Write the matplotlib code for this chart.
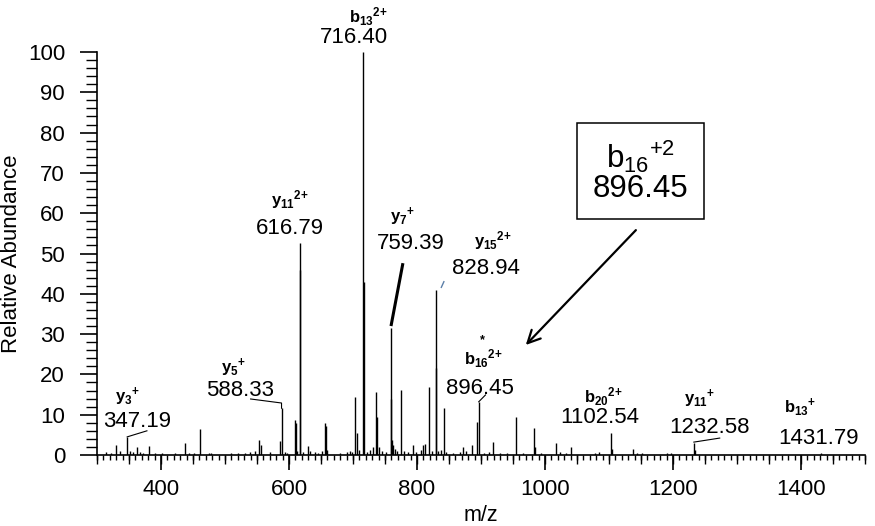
import numpy as np
import matplotlib
matplotlib.use('Agg')
import matplotlib.pyplot as plt
from matplotlib.ticker import MultipleLocator

plt.rcParams['font.family'] = ['Liberation Sans', 'DejaVu Sans']
plt.rcParams['mathtext.fontset'] = 'custom'
plt.rcParams['mathtext.rm'] = 'Liberation Sans'
plt.rcParams['mathtext.bf'] = 'Liberation Sans:bold'
plt.rcParams['mathtext.it'] = 'Liberation Sans:italic'

# ---- data: peak list (m/z, relative abundance) ----
peak_mz = [314, 322, 329.7, 336, 347.19, 351, 356, 362, 367, 372, 380.7, 390, 402,
           422, 437.5, 443, 451, 461.5, 475, 478,
           509, 520, 531, 539, 547, 553, 555.7, 570,
           586, 588.33, 593, 597, 609, 611, 613, 616.79, 617.29, 622, 630, 633, 640, 645,
           651, 656, 657.5, 660,
           680, 690, 695, 698, 703, 705.7, 709, 716.40, 716.9, 722, 727, 730.7, 736, 738,
           741, 745,
           752, 759.39, 759.89, 761, 763, 766, 769, 774.5, 779, 786, 794, 798, 806, 810,
           812, 818, 823, 828.94, 829.44, 833, 837, 842, 846, 856, 867, 872, 876, 885.5,
           893, 896.45,
           905, 912, 919, 930, 940, 954.7, 965, 982.8, 984, 994, 1017, 1024, 1033, 1040,
           1078, 1085, 1102.54, 1104, 1137, 1143, 1152, 1190, 1197, 1232.58, 1234, 1431.79]
peak_int = [0.8, 0.6, 2.5, 1.0, 4.5, 1.0, 0.7, 2.1, 0.8, 0.6, 2.3, 0.6, 0.5,
            0.5, 3.1, 0.6, 0.5, 6.5, 0.5, 0.4,
            0.5, 0.6, 0.6, 0.8, 1.1, 3.7, 2.6, 0.7,
            3.5, 11.6, 0.8, 0.6, 8.7, 8.0, 1.0, 52.5, 46.0, 0.8, 2.3, 1.0, 0.8, 0.6,
            1.0, 7.9, 7.2, 1.2,
            0.5, 0.8, 1.0, 0.7, 14.5, 5.5, 1.2, 100.0, 43.0, 0.8, 1.2, 1.9, 15.7, 9.5,
            1.9, 1.0,
            0.8, 31.4, 13.8, 3.7, 2.5, 1.5, 1.0, 16.1, 1.0, 0.8, 2.4, 0.8, 1.2, 2.4,
            2.8, 16.8, 1.0, 41.0, 21.5, 1.0, 1.3, 11.7, 0.7, 0.6, 0.8, 2.0, 1.0, 2.6,
            8.3, 13.2,
            0.5, 0.7, 3.3, 0.5, 0.4, 9.5, 0.5, 6.8, 2.0, 0.6, 2.9, 0.7, 0.6, 1.9,
            0.6, 0.8, 5.5, 1.5, 1.6, 0.4, 0.5, 0.6, 0.5, 2.9, 1.2, 0.5]

label_values = ['347.19', '588.33', '616.79', '716.40', '759.39', '828.94',
                '896.45', '1102.54', '1232.58', '1431.79']
ion_names = [r'$\mathbf{y}_{\mathbf{3}}{}^{\mathbf{{+}}}$',
             r'$\mathbf{y}_{\mathbf{5}}{}^{\mathbf{{+}}}$',
             r'$\mathbf{y}_{\mathbf{11}}{}^{\mathbf{2{+}}}$',
             r'$\mathbf{b}_{\mathbf{13}}{}^{\mathbf{2{+}}}$',
             r'$\mathbf{y}_{\mathbf{7}}{}^{\mathbf{{+}}}$',
             r'$\mathbf{y}_{\mathbf{15}}{}^{\mathbf{2{+}}}$',
             r'$\mathbf{b}_{\mathbf{16}}{}^{\mathbf{2{+}}}$',
             r'$\mathbf{b}_{\mathbf{20}}{}^{\mathbf{2{+}}}$',
             r'$\mathbf{y}_{\mathbf{11}}{}^{\mathbf{{+}}}$',
             r'$\mathbf{b}_{\mathbf{13}}{}^{\mathbf{{+}}}$']

x_ticks = [400, 600, 800, 1000, 1200, 1400]
y_ticks = [0, 10, 20, 30, 40, 50, 60, 70, 80, 90, 100]

# ---- figure ----
W, H = 875, 526
fig = plt.figure(figsize=(W / 100, H / 100), dpi=100)
ax = fig.add_axes([97 / W, 71 / H, 768 / W, 403 / H])

ax.vlines(peak_mz, 0, peak_int, color='black', lw=1.0)

ax.set_xlim(300, 1500)
ax.set_ylim(0, 100)
for s in ['top', 'right']:
    ax.spines[s].set_visible(False)
ax.spines['left'].set_linewidth(1.2)
ax.spines['bottom'].set_linewidth(1.2)

ax.set_xticks(x_ticks)
ax.xaxis.set_minor_locator(MultipleLocator(10))
ax.set_yticks(y_ticks)
ax.yaxis.set_minor_locator(MultipleLocator(2))
ax.tick_params(axis='x', which='major', length=11, width=1.2, labelsize=16, pad=6)
ax.tick_params(axis='x', which='minor', length=3.6, width=1.0)
ax.tick_params(axis='y', which='major', length=12, width=1.2, labelsize=16, pad=11)
ax.tick_params(axis='y', which='minor', length=8, width=1.0)

sec = ax.secondary_xaxis('bottom')
sec.set_xticks(np.arange(300, 1501, 50))
sec.tick_params(length=6.7, width=1.0, labelbottom=False)
sec.spines['bottom'].set_visible(False)

ax.set_xlabel('m/z', fontsize=15.5, labelpad=4)
ax.set_ylabel('Relative Abundance', fontsize=16, labelpad=4)

# ---- annotations ----
num_pos = [(362.5, 8.2), (523.4, 16.1), (601.6, 56.1), (701.6, 103.5), (790.6, 52.6),
           (907.8, 46.4), (898.4, 16.6), (1086, 9.2), (1257.8, 6.7), (1426.6, 4.2)]
ion_pos = [(346.9, 14.4), (512.5, 21.6), (601.6, 63.3), (723.4, 108.7), (776.6, 59.1),
           (918.8, 53.3), (903, 24.0), (1090.6, 14.4), (1242, 13.9), (1398.4, 11.9)]
for txt, (x, y) in zip(label_values, num_pos):
    ax.text(x, y, txt, fontsize=16, ha='center', va='center', clip_on=False)
for txt, (x, y) in zip(ion_names, ion_pos):
    ax.text(x, y, txt, fontsize=12, ha='center', va='center', clip_on=False)
ax.text(901.6, 28.6, '*', fontsize=9, ha='center', va='center', fontweight='bold')

# leader lines
ax.plot([347.19, 378], [4.5, 6.0], color='black', lw=0.8)
ax.plot([540, 588.33, 588.33], [13.9, 12.9, 11.6], color='black', lw=0.8)
ax.plot([778, 759.39], [47.6, 32.0], color='black', lw=2.2, solid_capstyle='butt')
ax.plot([838, 842], [41.6, 43.0], color='#5b7fa8', lw=1.0)
ax.plot([896.45, 907], [13.2, 14.9], color='black', lw=0.8)
ax.plot([1232.58, 1273], [3.2, 4.2], color='black', lw=0.8)

# boxed callout with arrow
ax.text(1149, 70.5, 'b$_{16}{}^{+2}$\n896.45', fontsize=22.5, ha='center', va='center',
        linespacing=0.95, clip_on=False,
        bbox=dict(boxstyle='square,pad=0.5', fc='white', ec='black', lw=1.1))
ax.annotate('', xy=(970, 27.3), xytext=(1142, 55.8),
            arrowprops=dict(arrowstyle='->,head_length=0.9,head_width=0.45',
                            color='black', lw=1.6, shrinkA=0, shrinkB=0))

fig.savefig('out.png', dpi=100)
